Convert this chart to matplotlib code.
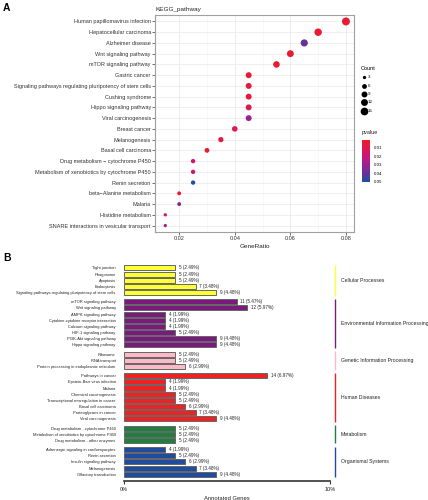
import matplotlib
matplotlib.use("Agg")
import matplotlib.pyplot as plt
import numpy as np
from matplotlib.colors import LinearSegmentedColormap, Normalize
from matplotlib.transforms import blended_transform_factory

plt.rcParams['font.family'] = ['Liberation Sans', 'DejaVu Sans']

# ---------------- Panel A data ----------------
a_terms = ["Human papillomavirus infection", "Hepatocellular carcinoma", "Alzheimer disease",
           "Wnt signaling pathway", "mTOR signaling pathway", "Gastric cancer",
           "Signaling pathways regulating pluripotency of stem cells", "Cushing syndrome",
           "Hippo signaling pathway", "Viral carcinogenesis", "Breast cancer", "Melanogenesis",
           "Basal cell carcinoma", "Drug metabolism \u2212 cytochrome P450",
           "Metabolism of xenobiotics by cytochrome P450", "Renin secretion",
           "beta\u2212Alanine metabolism", "Malaria", "Histidine metabolism",
           "SNARE interactions in vesicular transport"]
a_ratio = [0.08, 0.07, 0.065, 0.06, 0.055, 0.045, 0.045, 0.045, 0.045, 0.045,
           0.04, 0.035, 0.03, 0.025, 0.025, 0.025, 0.02, 0.02, 0.015, 0.015]
a_count = [16, 14, 13, 12, 11, 9, 9, 9, 9, 9, 8, 7, 6, 5, 5, 5, 4, 4, 3, 3]
a_pvalue = [0.004, 0.003, 0.041, 0.004, 0.004, 0.005, 0.006, 0.007, 0.011, 0.031,
            0.010, 0.008, 0.004, 0.016, 0.018, 0.050, 0.004, 0.034, 0.020, 0.028]
a_xticks = [0.02, 0.04, 0.06, 0.08]
a_size_legend = [3, 6, 9, 12, 15]
a_cbar_ticks = [0.01, 0.02, 0.03, 0.04, 0.05]

# ---------------- Panel B data ----------------
b_groups = ["Cellular Processes", "Environmental Information Processing",
            "Genetic Information Processing", "Human Diseases", "Metabolism",
            "Organismal Systems"]
b_group_colors = ["#FFFF33", "#7A1A7E", "#FFB8C6", "#EE2222", "#1F7F3F", "#1F4C9E"]
b_terms = [
    ["Tight junction", "Phagosome", "Apoptosis", "Endocytosis",
     "Signaling pathways regulating pluripotency of stem cells"],
    ["mTOR signaling pathway", "Wnt signaling pathway", "AMPK signaling pathway",
     "Cytokine-cytokine receptor interaction", "Calcium signaling pathway",
     "HIF-1 signaling pathway", "PI3K-Akt signaling pathway", "Hippo signaling pathway"],
    ["Ribosome", "RNA transport", "Protein processing in endoplasmic reticulum"],
    ["Pathways in cancer", "Epstein-Barr virus infection", "Malaria",
     "Chemical carcinogenesis", "Transcriptional misregulation in cancer",
     "Basal cell carcinoma", "Proteoglycans in cancer", "Viral carcinogenesis"],
    ["Drug metabolism - cytochrome P450", "Metabolism of xenobiotics by cytochrome P450",
     "Drug metabolism - other enzymes"],
    ["Adrenergic signaling in cardiomyocytes", "Renin secretion", "Insulin signaling pathway",
     "Melanogenesis", "Olfactory transduction"],
]
b_counts = [
    [5, 5, 5, 7, 9],
    [11, 12, 4, 4, 4, 5, 9, 9],
    [5, 5, 6],
    [14, 4, 4, 5, 5, 6, 7, 9],
    [5, 5, 5],
    [4, 5, 6, 7, 9],
]
b_total = 201
b_xticks_pct = [0, 10]

W, H = 428, 500
fig = plt.figure(figsize=(W / 100, H / 100), dpi=100)

def fx(px):
    return px / W

def fy(py):
    return 1 - py / H

# ================= Panel A =================
axA = fig.add_axes([fx(155), fy(232), fx(354) - fx(155), fy(15) - fy(232)])
cmap = LinearSegmentedColormap.from_list(
    "pv", ["#EE1C24", "#E0184A", "#C8177C", "#9C2290", "#6A3097", "#1E4FA3"])
norm = Normalize(vmin=0.0003, vmax=0.05)
yA = np.arange(len(a_terms))
sizes = [5.7 + (c - 3) * 2.1 for c in a_count]
axA.scatter(a_ratio, yA, s=sizes, c=a_pvalue, cmap=cmap, norm=norm, zorder=3,
            linewidths=0)
axA.set_xlim(0.0113, 0.0829)
axA.set_ylim(len(a_terms) - 0.4, -0.6)
axA.set_yticks(yA)
axA.set_yticklabels(a_terms, fontsize=4.0, color="#333333")
axA.set_xticks(a_xticks)
axA.set_xticklabels([f"{t:.2f}" for t in a_xticks], fontsize=4.0, color="#333333")
axA.set_xticks([0.03, 0.05, 0.07], minor=True)
axA.tick_params(axis="both", which="major", length=2, width=0.5, color="#333333", pad=1)
axA.tick_params(axis="x", which="minor", length=0)
axA.grid(True, which="major", color="#EBEBEB", linewidth=0.6, zorder=0)
axA.grid(True, which="minor", axis="x", color="#F3F3F3", linewidth=0.4, zorder=0)
axA.set_axisbelow(True)
for s in axA.spines.values():
    s.set_color("#A0A0A0")
    s.set_linewidth(0.8)
axA.set_xlabel("GeneRatio", fontsize=4.6, color="#222222", labelpad=2)
axA.set_title("KEGG_pathway", fontsize=4.6, loc="left", pad=3, color="#222222")
fig.text(fx(3), fy(8), "A", fontsize=7.5, fontweight="bold", va="center", ha="left")

# size legend
handles = [axA.scatter([], [], s=5.7 + (c - 3) * 2.1, color="black", linewidths=0)
           for c in a_size_legend]
leg = axA.legend(handles, [str(c) for c in a_size_legend], title="Count",
                 loc="upper left", bbox_to_anchor=(fx(358), fy(63)),
                 bbox_transform=fig.transFigure, frameon=False, fontsize=3.2,
                 title_fontsize=4.0, labelspacing=0.95, handletextpad=0.3,
                 borderpad=0.2, handlelength=1.2)
leg._legend_box.align = "left"

# colorbar
caxA = fig.add_axes([fx(362), fy(181.5), fx(370) - fx(362), fy(139.5) - fy(181.5)])
sm = plt.cm.ScalarMappable(cmap=cmap, norm=norm)
cb = fig.colorbar(sm, cax=caxA)
cb.outline.set_visible(False)
caxA.invert_yaxis()
cb.set_ticks(a_cbar_ticks)
cb.set_ticklabels([f"{t:.2f}" for t in a_cbar_ticks])
caxA.tick_params(labelsize=3.2, length=1.5, width=0.4, color="white", pad=1.5)
fig.text(fx(362), fy(135), "pvalue", fontsize=4.0, ha="left", va="bottom", color="#222222")

# ================= Panel B =================
axB = fig.add_axes([fx(124), fy(481), fx(330) - fx(124), fy(263) - fy(481)])
ypos, labels, vals, cols, group_spans = [], [], [], [], []
cur = 0.0
for gi, (terms, counts) in enumerate(zip(b_terms, b_counts)):
    start = cur
    for t, c in zip(terms, counts):
        ypos.append(cur)
        labels.append(t)
        vals.append(c)
        cols.append(b_group_colors[gi])
        cur += 1
    group_spans.append((start, cur - 1))
    cur += 0.5
axB.barh(ypos, vals, height=0.82, color=cols, edgecolor="#666666", linewidth=0.7, zorder=2)
for y, v in zip(ypos, vals):
    axB.text(v + 0.35, y, f"{v} ({v / b_total * 100:.2f}%)", fontsize=3.3,
             va="center", ha="left", color="#222222")
axB.set_ylim(ypos[-1] + 1.1, -0.8)
axB.set_xlim(0, b_total / 10)
axB.set_yticks(ypos)
axB.set_yticklabels(labels, fontsize=2.9, color="#222222")
axB.tick_params(axis="y", length=0, pad=6)
axB.set_xticks([p * b_total / 100 for p in b_xticks_pct])
axB.set_xticklabels([f"{p}%" for p in b_xticks_pct], fontsize=4.0, color="#222222")
axB.tick_params(axis="x", length=2.5, width=0.8, color="#333333", pad=2)
for k in ["top", "right", "left"]:
    axB.spines[k].set_visible(False)
axB.spines["bottom"].set_linewidth(1.2)
axB.spines["bottom"].set_color("#333333")
axB.set_xlabel("Annotated Genes", fontsize=4.2, color="#222222", labelpad=3)
fig.text(fx(3), fy(258), "B", fontsize=7.5, fontweight="bold", va="center", ha="left")

trB = blended_transform_factory(axB.transAxes, axB.transData)
xl = (335 - 124) / 206
xt = (341 - 124) / 206
for g, (s0, s1), col in zip(b_groups, group_spans, b_group_colors):
    axB.plot([xl, xl], [s0 - 0.5, s1 + 0.5], transform=trB, color=col, lw=1.0,
             clip_on=False, solid_capstyle="butt")
    axB.text(xt, (s0 + s1) / 2, g, transform=trB, fontsize=3.7, va="center",
             ha="left", color="#222222", clip_on=False)

fig.savefig("out.png", dpi=100)
